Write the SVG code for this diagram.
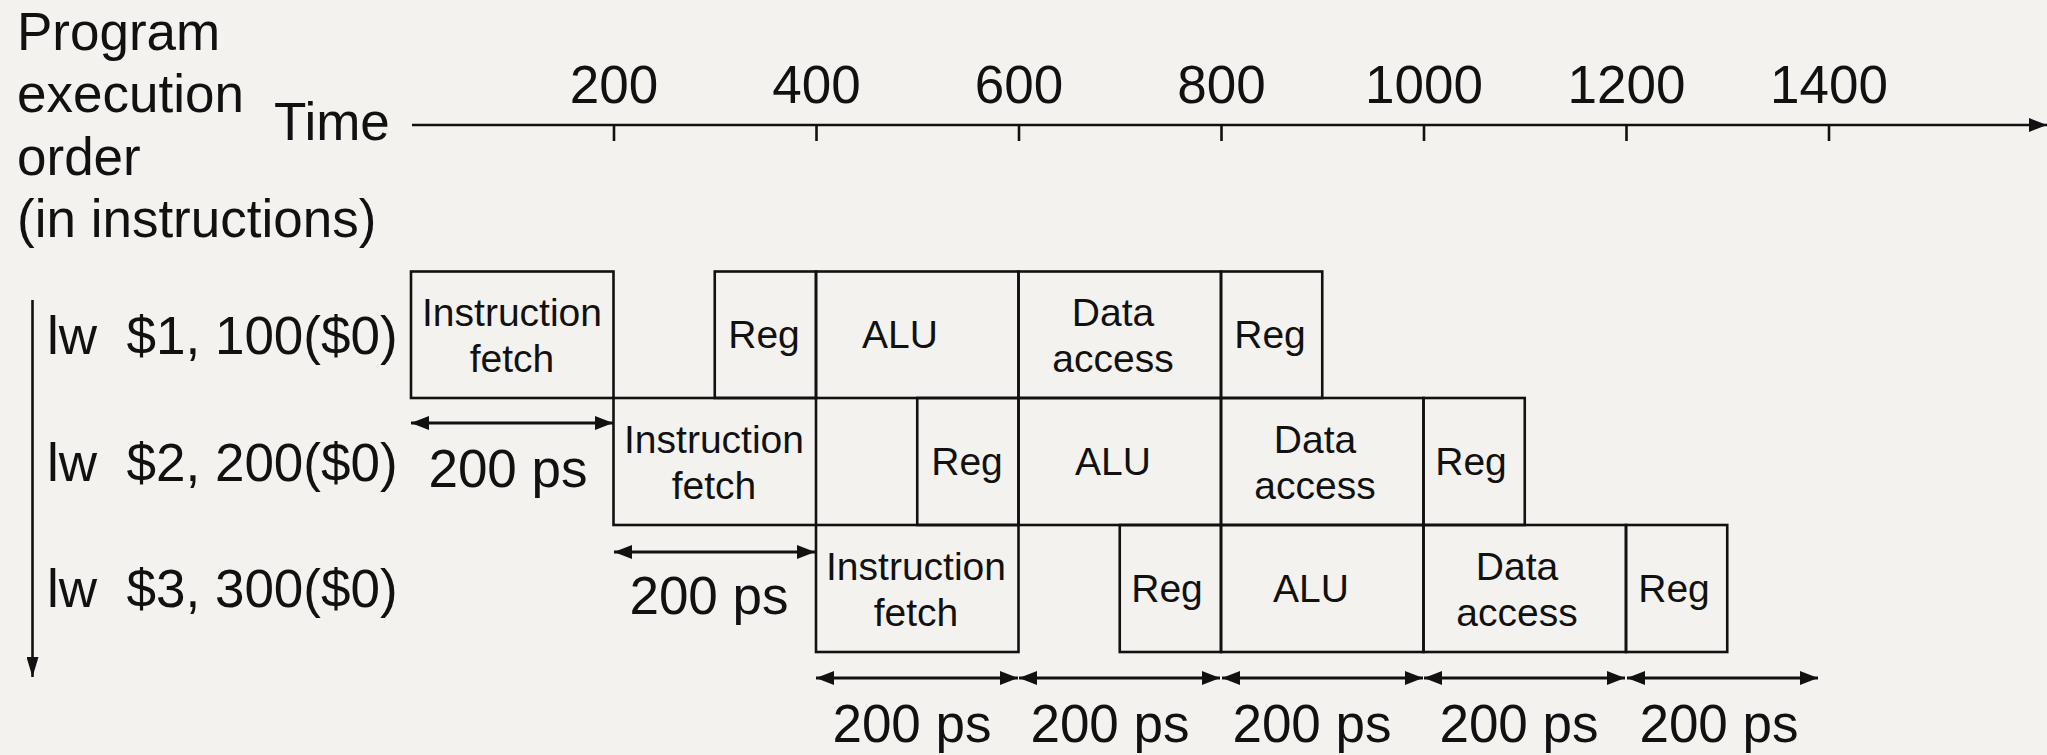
<svg xmlns="http://www.w3.org/2000/svg" width="2047" height="755" viewBox="0 0 2047 755">
<defs>
<style>
.bg{fill:#f4f2ee}
.big{font-family:"Liberation Sans",Arial,Helvetica,sans-serif;font-size:53px;fill:#111}
.st{font-family:"Liberation Sans",Arial,Helvetica,sans-serif;font-size:39px;fill:#111;text-anchor:middle}
.mid{text-anchor:middle}
.pre{white-space:pre}
.box{fill:none;stroke:#111;stroke-width:2.6}
.ln{fill:none;stroke:#111;stroke-width:2.6}
.dbl{fill:none;stroke:#111;stroke-width:2.8;marker-start:url(#ah);marker-end:url(#ah)}
</style>
<marker id="ah" viewBox="0 0 18 14" refX="18" refY="7" markerWidth="18" markerHeight="14" markerUnits="userSpaceOnUse" orient="auto-start-reverse"><path d="M0,0 L18,7 L0,14 z" fill="#111"/></marker>
<marker id="ahv" viewBox="0 0 20 12" refX="20" refY="6" markerWidth="20" markerHeight="12" markerUnits="userSpaceOnUse" orient="auto"><path d="M0,0 L20,6 L0,12 z" fill="#111"/></marker>
</defs>
<rect class="bg" x="0" y="0" width="2047" height="755"/>

<g id="labels">
<text class="big" x="17" y="50">Program</text>
<text class="big" x="17" y="112">execution</text>
<text class="big" x="17" y="175">order</text>
<text class="big" x="17" y="237">(in instructions)</text>
<text class="big" x="274" y="140">Time</text>
<text class="big pre" x="47" y="354" xml:space="preserve">lw  $1, 100($0)</text>
<text class="big pre" x="47" y="481" xml:space="preserve">lw  $2, 200($0)</text>
<text class="big pre" x="47" y="607" xml:space="preserve">lw  $3, 300($0)</text>
</g>

<g id="time-axis">
<line class="ln" x1="412" y1="125" x2="2047" y2="125" marker-end="url(#ah)"/>
<line class="ln" x1="614" y1="125" x2="614" y2="141"/>
<line class="ln" x1="816.5" y1="125" x2="816.5" y2="141"/>
<line class="ln" x1="1019" y1="125" x2="1019" y2="141"/>
<line class="ln" x1="1221.5" y1="125" x2="1221.5" y2="141"/>
<line class="ln" x1="1424" y1="125" x2="1424" y2="141"/>
<line class="ln" x1="1626.5" y1="125" x2="1626.5" y2="141"/>
<line class="ln" x1="1829" y1="125" x2="1829" y2="141"/>
<text class="big mid" x="614" y="103">200</text>
<text class="big mid" x="816.5" y="103">400</text>
<text class="big mid" x="1019" y="103">600</text>
<text class="big mid" x="1221.5" y="103">800</text>
<text class="big mid" x="1424" y="103">1000</text>
<text class="big mid" x="1626.5" y="103">1200</text>
<text class="big mid" x="1829" y="103">1400</text>
</g>

<g id="instr1">
<rect class="box" x="411" y="271.5" width="202.5" height="126.5"/>
<text class="st" x="512" y="326">Instruction</text><text class="st" x="512" y="372">fetch</text>
<rect class="box" x="714.75" y="271.5" width="101.25" height="126.5"/>
<text class="st" x="764" y="348">Reg</text>
<rect class="box" x="816" y="271.5" width="202.5" height="126.5"/>
<text class="st" x="900" y="348">ALU</text>
<rect class="box" x="1018.5" y="271.5" width="202.5" height="126.5"/>
<text class="st" x="1113" y="326">Data</text><text class="st" x="1113" y="372">access</text>
<rect class="box" x="1221" y="271.5" width="101.25" height="126.5"/>
<text class="st" x="1270" y="348">Reg</text>
</g>

<g id="instr2">
<rect class="box" x="613.5" y="398" width="202.5" height="127"/>
<text class="st" x="714" y="453">Instruction</text><text class="st" x="714" y="499">fetch</text>
<rect class="box" x="917.25" y="398" width="101.25" height="127"/>
<text class="st" x="967" y="475">Reg</text>
<rect class="box" x="1018.5" y="398" width="202.5" height="127"/>
<text class="st" x="1113" y="475">ALU</text>
<rect class="box" x="1221" y="398" width="202.5" height="127"/>
<text class="st" x="1315" y="453">Data</text><text class="st" x="1315" y="499">access</text>
<rect class="box" x="1423.5" y="398" width="101.25" height="127"/>
<text class="st" x="1471" y="475">Reg</text>
</g>

<g id="instr3">
<rect class="box" x="816" y="525" width="202.5" height="127"/>
<text class="st" x="916" y="580">Instruction</text><text class="st" x="916" y="626">fetch</text>
<rect class="box" x="1119.75" y="525" width="101.25" height="127"/>
<text class="st" x="1167" y="602">Reg</text>
<rect class="box" x="1221" y="525" width="202.5" height="127"/>
<text class="st" x="1311" y="602">ALU</text>
<rect class="box" x="1423.5" y="525" width="202.5" height="127"/>
<text class="st" x="1517" y="580">Data</text><text class="st" x="1517" y="626">access</text>
<rect class="box" x="1626" y="525" width="101.25" height="127"/>
<text class="st" x="1674" y="602">Reg</text>
</g>

<g id="connectors">
<line class="ln" x1="32.5" y1="300" x2="32.5" y2="677" marker-end="url(#ahv)"/>
<line class="dbl" x1="411" y1="423" x2="613" y2="423"/>
<line class="dbl" x1="614" y1="552" x2="815" y2="552"/>
<line class="dbl" x1="816" y1="678" x2="1018" y2="678"/>
<line class="dbl" x1="1019" y1="678" x2="1220" y2="678"/>
<line class="dbl" x1="1222" y1="678" x2="1423" y2="678"/>
<line class="dbl" x1="1424" y1="678" x2="1625" y2="678"/>
<line class="dbl" x1="1627" y1="678" x2="1818" y2="678"/>
</g>

<g id="durations">
<text class="big mid" x="508" y="487">200 ps</text>
<text class="big mid" x="709" y="614">200 ps</text>
<text class="big mid" x="912" y="742">200 ps</text>
<text class="big mid" x="1110" y="742">200 ps</text>
<text class="big mid" x="1312" y="742">200 ps</text>
<text class="big mid" x="1519" y="742">200 ps</text>
<text class="big mid" x="1719" y="742">200 ps</text>
</g>
</svg>
